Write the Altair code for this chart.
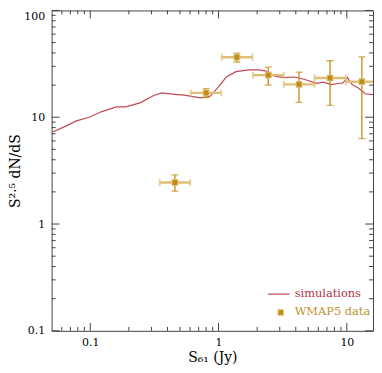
import altair as alt
import pandas as pd

# simulation curve
sim_s = [0.050, 0.065, 0.077, 0.098, 0.123, 0.160, 0.190, 0.247, 0.312, 0.360, 0.455, 0.541,
         0.722, 0.860, 0.995, 1.149, 1.367, 1.725, 2.05, 2.31, 2.74, 3.26, 3.89, 4.63, 5.83,
         6.55, 7.57, 8.77, 9.28, 10.1, 11.0, 12.4, 13.9, 16.0]
sim_v = [7.2, 8.3, 9.2, 10.0, 11.3, 12.5, 12.5, 13.7, 16.0, 16.9, 16.4, 16.1,
         15.2, 15.7, 19.1, 23.8, 26.7, 27.8, 27.8, 27.2, 24.3, 23.5, 23.8, 22.7, 20.8,
         21.3, 20.2, 20.8, 20.8, 23.5, 20.2, 18.7, 16.6, 16.3]

# WMAP5 data
wm_s = [0.457, 0.80, 1.39, 2.44, 4.24, 7.4, 13.1]
wm_v = [2.45, 16.9, 36.5, 24.8, 20.3, 23.3, 21.5]
wm_s_lo = [0.348, 0.607, 1.06, 1.85, 3.23, 5.6, 9.84]
wm_s_hi = [0.60, 1.05, 1.84, 3.23, 5.6, 9.84, 17.5]
wm_v_lo = [2.03, 15.3, 32.9, 20.0, 13.8, 12.9, 6.3]
wm_v_hi = [2.88, 18.5, 39.9, 29.4, 26.5, 33.8, 36.7]

x_major = [0.1, 1, 10]
x_minor = [0.06, 0.07, 0.08, 0.09, 0.2, 0.3, 0.4, 0.5, 0.6, 0.7, 0.8, 0.9,
           2, 3, 4, 5, 6, 7, 8, 9]
y_major = [0.1, 1, 10, 100]
y_minor = [0.2, 0.3, 0.4, 0.5, 0.6, 0.7, 0.8, 0.9, 2, 3, 4, 5, 6, 7, 8, 9,
           20, 30, 40, 50, 60, 70, 80, 90]

X_TITLE = "S₆₁  (Jy)"
Y_TITLE = "S²·⁵ dN/dS"

W, H = 324, 323
FONT = "DejaVu Serif"
SIM_C = "#bf4a56"
DAT_C = "#bf8d14"
LIGHT = "#dfbf78"
TICK_C = "#444444"

sim_df = pd.DataFrame({"s": sim_s, "v": sim_v})
wm_df = pd.DataFrame({"s": wm_s, "v": wm_v, "slo": wm_s_lo, "shi": wm_s_hi,
                      "vlo": wm_v_lo, "vhi": wm_v_hi})
vcap_df = pd.DataFrame({"s": wm_s_lo + wm_s_hi, "v": wm_v + wm_v})
hcap_df = pd.DataFrame({"s": wm_s + wm_s, "v": wm_v_lo + wm_v_hi})

xs = alt.Scale(type="log", domain=[0.05, 16], nice=False)
ys = alt.Scale(type="log", domain=[0.1, 100], nice=False)

x_lab = alt.Axis(orient="bottom", values=x_major, ticks=False, domain=False, grid=False,
                 labelPadding=6, format="~g", titlePadding=3)
y_lab = alt.Axis(orient="left", values=y_major, ticks=False, domain=False, grid=False,
                 labelPadding=7, format="~g", titlePadding=1, minExtent=0,
                 labelBaseline={"condition": {"test": "datum.value >= 100", "value": "top"},
                                "value": "middle"})


def X(field):
    return alt.X(field, type="quantitative", scale=xs, axis=x_lab, title=X_TITLE)


def Y(field):
    return alt.Y(field, type="quantitative", scale=ys, axis=y_lab, title=Y_TITLE)


line = alt.Chart(sim_df).mark_line(color=SIM_C, strokeWidth=1.2, clip=True).encode(
    x=X("s"), y=Y("v"))


def xticks(vals, size):
    df = pd.DataFrame({"t": vals})
    base = alt.Chart(df).mark_rule(color=TICK_C, strokeWidth=1)
    return [base.encode(x=X("t"), y=alt.value(H), y2=alt.value(H - size)),
            base.encode(x=X("t"), y=alt.value(0), y2=alt.value(size))]


def yticks(vals, size):
    df = pd.DataFrame({"t": vals})
    base = alt.Chart(df).mark_rule(color=TICK_C, strokeWidth=1)
    return [base.encode(y=Y("t"), x=alt.value(0), x2=alt.value(size)),
            base.encode(y=Y("t"), x=alt.value(W), x2=alt.value(W - size))]


tick_layers = xticks(x_major, 8) + xticks(x_minor, 4) + yticks(y_major, 8) + yticks(y_minor, 4)

xerr = alt.Chart(wm_df).mark_rule(color=LIGHT, strokeWidth=2.4, clip=True).encode(
    x=X("slo"), x2="shi:Q", y=Y("v"))

yerr = alt.Chart(wm_df).mark_rule(color=DAT_C, strokeWidth=1.3, clip=True).encode(
    x=X("s"), y=Y("vlo"), y2="vhi:Q")

vcaps = alt.Chart(vcap_df).mark_tick(orient="vertical", color=LIGHT, size=7, thickness=2,
                                     clip=True).encode(x=X("s"), y=Y("v"))

hcaps = alt.Chart(hcap_df).mark_tick(orient="horizontal", color=DAT_C, size=7, thickness=1.3,
                                     clip=True).encode(x=X("s"), y=Y("v"))

pts = alt.Chart(wm_df).mark_square(size=34, color=DAT_C, opacity=1, stroke=LIGHT,
                                   strokeWidth=1, clip=True).encode(x=X("s"), y=Y("v"))

leg1_df = pd.DataFrame({"t": ["simulations"]})
leg2_df = pd.DataFrame({"t": ["WMAP5 data"]})

leg_line = alt.Chart(leg1_df).mark_rule(color=SIM_C, strokeWidth=1.2).encode(
    x=alt.value(W - 106), x2=alt.value(W - 84), y=alt.value(H - 37))
leg_txt1 = alt.Chart(leg1_df).mark_text(align="left", baseline="middle", font=FONT,
                                        fontSize=11.5, color="#a83444").encode(
    x=alt.value(W - 79), y=alt.value(H - 37), text="t:N")
leg_sq = alt.Chart(leg2_df).mark_square(size=30, color=DAT_C, opacity=1, stroke=LIGHT,
                                        strokeWidth=1).encode(
    x=alt.value(W - 93), y=alt.value(H - 18.5))
leg_txt2 = alt.Chart(leg2_df).mark_text(align="left", baseline="middle", font=FONT,
                                        fontSize=11.5, color="#c0922a").encode(
    x=alt.value(W - 79), y=alt.value(H - 18.5), text="t:N")

chart = alt.layer(
    line, *tick_layers, xerr, yerr, vcaps, hcaps, pts, leg_line, leg_txt1, leg_sq, leg_txt2
).properties(
    width=W, height=H, padding={"left": 1, "top": 0, "right": 0, "bottom": 0}
).configure_view(
    stroke=TICK_C, strokeWidth=1
).configure_axis(
    labelFont=FONT, titleFont=FONT, labelFontSize=11, titleFontSize=14,
    titleFontWeight="normal", labelColor="black", titleColor="black",
)

chart.save("out.html", embed_options={"renderer": "svg", "actions": False})
